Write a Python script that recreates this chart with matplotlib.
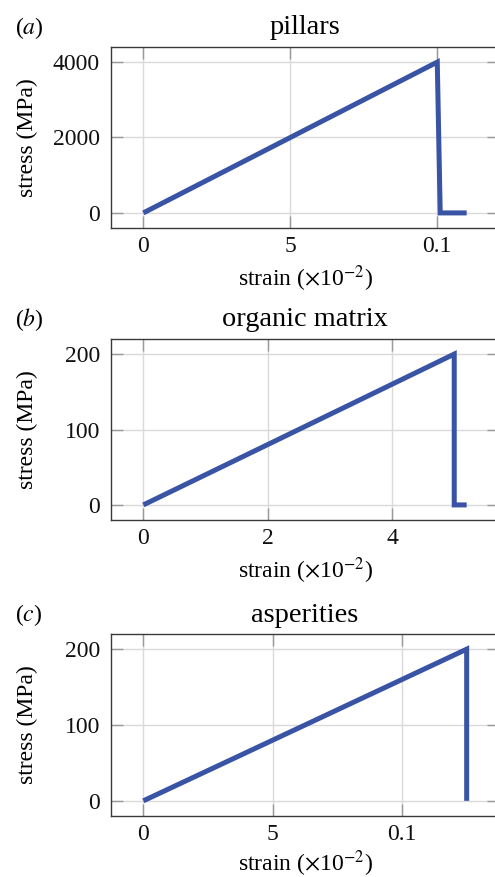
import numpy as np
import matplotlib
matplotlib.use('Agg')
import matplotlib.pyplot as plt

# stress-strain curves (strain in units of 1e-2, stress in MPa)
pillars_strain = [0, 10, 10.1, 11]
pillars_stress = [0, 4000, 0, 0]

matrix_strain = [0, 5, 5, 5.2]
matrix_stress = [0, 200, 0, 0]

asper_strain = [0, 12.5, 12.5]
asper_stress = [0, 200, 0]

titles = ['pillars', 'organic matrix', 'asperities']
panel_tags = ['a', 'b', 'c']

xticks = [[0, 5, 10], [0, 2, 4], [0, 5, 10]]
xticklabels = [['0', '5', '0.1'], ['0', '2', '4'], ['0', '5', '0.1']]
yticks = [[0, 2000, 4000], [0, 100, 200], [0, 100, 200]]

plt.rcParams['font.family'] = ['Liberation Serif', 'DejaVu Serif']
plt.rcParams['mathtext.fontset'] = 'stix'
plt.rcParams['font.size'] = 17

LINE_COLOR = '#3953a5'
W, H = 495, 877

fig = plt.figure(figsize=(W / 100, H / 100), dpi=100)

# axes boxes in pixels: (top, bottom); right edge falls just off the canvas
boxes = [(47, 228), (339, 520), (634, 816)]
xlabel_pads = [4.5, 4.5, 2.0]
left_px, right_px = 111, 499

data = [(pillars_strain, pillars_stress),
        (matrix_strain, matrix_stress),
        (asper_strain, asper_stress)]


def enlarge(lo, hi, frac=0.1):
  d = (hi - lo) * frac
  return lo - d, hi + d


for i, (top, bot) in enumerate(boxes):
  ax = fig.add_axes([left_px / W, 1 - bot / H,
                     (right_px - left_px) / W, (bot - top) / H])
  x, y = data[i]
  ax.plot(x, y, color=LINE_COLOR, lw=3.6,
          solid_joinstyle='miter', solid_capstyle='butt', zorder=3)
  ax.set_xlim(*enlarge(min(x), max(x)))
  ax.set_ylim(*enlarge(min(y), max(y)))
  ax.set_xticks(xticks[i])
  ax.set_xticklabels(xticklabels[i])
  ax.set_yticks(yticks[i])
  ax.grid(True, color='#dadada', lw=1.0, zorder=0)
  ax.tick_params(direction='in', length=8.5, width=1.0, color='#9a9a9a',
                 labelcolor='#111111', top=True, right=True)
  ax.tick_params(axis='x', pad=6)
  ax.tick_params(axis='y', pad=8)
  for s in ax.spines.values():
    s.set_color('#3a3a3a')
    s.set_linewidth(1.0)
  ax.spines['right'].set_visible(False)
  ax.set_title(titles[i], pad=9)
  ax.annotate(r'($\mathit{%s}$)' % panel_tags[i], xy=(0, 1),
              xycoords='axes fraction', xytext=(-96, 12.5),
              textcoords='offset pixels', va='baseline', ha='left')
  ax.set_xlabel(r'strain ($\times$10$^{-2}$)', labelpad=xlabel_pads[i])
  ax.set_ylabel('stress (MPa)')
  ax.yaxis.set_label_coords((38 - left_px) / (right_px - left_px), 0.5)

fig.savefig('out.png', dpi=100)
